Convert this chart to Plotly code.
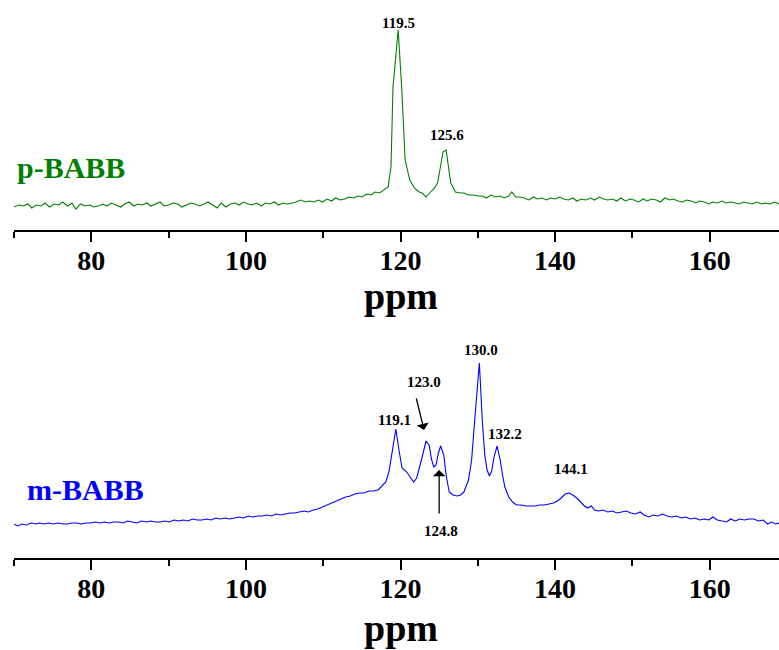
import plotly.graph_objects as go

# ---------------- data ----------------
# p-BABB spectrum: chemical shift (ppm) and intensity (a.u.)
p_ppm = [70.0, 70.6, 71.2, 71.8, 72.3, 72.9, 73.5, 74.0, 74.6, 75.2, 75.8, 76.3, 76.9, 77.5, 78.0,
         78.6, 79.2, 79.8, 80.3, 80.9, 81.5, 82.0, 82.6, 83.2, 83.8, 84.3, 84.9, 85.5, 86.0, 86.6,
         87.2, 87.7, 88.3, 88.9, 89.4, 90.0, 90.6, 91.2, 91.7, 92.3, 92.9, 93.4, 94.0, 94.6, 95.1,
         95.7, 96.3, 96.8, 97.4, 98.0, 98.6, 99.1, 99.7, 100.3, 100.8, 101.4, 102.0, 102.5, 103.1,
         103.7, 104.2, 104.8, 105.4, 106.0, 106.5, 107.1, 107.7, 108.2, 108.8, 109.4, 109.9, 110.5,
         111.1, 111.6, 112.2, 112.8, 113.3, 113.9, 114.5, 115.0, 115.6, 116.2, 116.7, 117.3, 117.9,
         118.4, 118.77, 119.03, 119.7, 120.15, 120.6, 121.2, 121.8, 122.4, 122.8, 123.3, 123.9,
         124.4, 124.8, 125.2, 125.5, 125.9, 126.2, 126.5, 127.1, 127.7, 128.2, 128.8, 129.4, 130.0,
         130.6, 131.1, 131.7, 132.3, 132.9, 133.4, 134.0, 134.4, 134.9, 135.5, 136.0, 136.6, 137.2,
         137.7, 138.3, 138.9, 139.4, 140.0, 140.6, 141.1, 141.7, 142.3, 142.8, 143.4, 144.0, 144.6,
         145.1, 145.7, 146.3, 146.8, 147.4, 148.0, 148.5, 149.1, 149.7, 150.2, 150.8, 151.4, 151.9,
         152.5, 153.1, 153.6, 154.2, 154.8, 155.3, 155.9, 156.5, 157.0, 157.6, 158.2, 158.7, 159.3,
         159.9, 160.4, 161.0, 161.6, 162.1, 162.7, 163.3, 163.8, 164.4, 165.0, 165.5, 166.1, 166.7,
         167.2, 167.8, 168.4, 169.0]
p_int = [0, 2, 1, 3, -1, 2, 1, 4, 0, 3, 2, 5, 1, 4, -2,
         3, 1, 2, 0, 1, 3, 1, 4, 2, 0, 3, 5, 1, 3, 2,
         4, 1, 3, 5, 1, 2, 4, 3, 0, 2, 4, 3, 1, 3, 5,
         2, -1, 4, 0, 3, 4, 2, 5, 3, 2, 4, 1, 4, 3,
         5, 2, 4, 3, 4, 5, 7, 5, 6, 5, 7, 5, 8,
         6, 9, 7, 8, 10, 9, 11, 10, 13, 12, 15, 14, 17,
         20, 40, 120, 177, 120, 47, 27, 19, 15, 14, 10, 15,
         19, 24, 40, 55, 57, 40, 24, 15, 14, 14, 12, 12, 11,
         11, 9, 12, 10, 11, 9, 11, 15, 10, 10, 9, 7, 10,
         8, 9, 7, 9, 8, 10, 8, 7, 9, 6, 8, 7, 9,
         7, 10, 8, 7, 8, 6, 9, 6, 8, 7, 5, 8, 6,
         8, 7, 5, 9, 7, 8, 6, 5, 7, 6, 4, 6, 5,
         3, 5, 4, 6, 4, 5, 4, 3, 5, 4, 3, 5, 3,
         4, 3, 5, 3]

# m-BABB spectrum
m_ppm = [70.0, 70.5, 71.0, 71.6, 72.2, 72.8, 73.3, 73.9, 74.5, 75.1, 75.7, 76.3, 76.9, 77.5, 78.1,
         78.7, 79.3, 79.9, 80.5, 81.1, 81.7, 82.3, 82.9, 83.5, 84.1, 84.7, 85.3, 85.9, 86.5, 87.1,
         87.7, 88.3, 88.9, 89.5, 90.1, 90.7, 91.3, 91.9, 92.5, 93.1, 93.7, 94.3, 94.9, 95.5, 96.1,
         96.7, 97.3, 97.9, 98.5, 99.1, 99.7, 100.3, 100.9, 101.5, 102.1, 102.7, 103.3, 103.9, 104.5,
         105.1, 105.7, 106.3, 106.9, 107.5, 108.1, 108.7, 109.3, 109.9, 110.5, 111.1, 111.7, 112.3,
         112.9, 113.5, 114.1, 114.7, 115.3, 115.9, 116.5, 117.1, 117.6, 118.1, 118.5, 118.9, 119.4,
         119.8, 120.2, 120.8, 121.3, 121.7, 122.1, 122.5, 122.8, 123.3, 123.7, 124.0, 124.3, 124.6,
         124.9, 125.2, 125.6, 125.9, 126.3, 126.8, 127.3, 127.8, 128.2, 128.8, 129.2, 129.6, 129.9,
         130.2, 130.6, 130.9, 131.2, 131.5, 131.8, 132.1, 132.5, 132.9, 133.2, 133.5, 134.0, 134.5,
         135.0, 135.6, 136.2, 136.8, 137.4, 138.0, 138.6, 139.2, 139.8, 140.3, 140.8, 141.3, 141.8,
         142.3, 142.8, 143.3, 143.8, 144.2, 144.7, 145.1, 145.6, 146.2, 146.8, 147.4, 148.0, 148.6,
         149.2, 149.8, 150.4, 151.0, 151.5, 152.1, 152.7, 153.3, 153.9, 154.5, 155.1, 155.7, 156.3,
         156.9, 157.5, 158.1, 158.7, 159.3, 159.9, 160.4, 161.0, 161.6, 162.2, 162.7, 163.3, 163.9,
         164.5, 165.1, 165.7, 166.3, 166.9, 167.5, 168.0, 168.5, 169.0]
m_int = [1, -1, 1, 0, 2, 1, 2, 1, 2, 1, 2, 1, 1, 2, 2,
         1, 2, 2, 3, 2, 3, 2, 3, 3, 2, 4, 3, 2, 4, 3,
         4, 3, 3, 4, 3, 5, 4, 5, 4, 6, 5, 5, 6, 5, 7,
         6, 7, 6, 7, 8, 7, 9, 8, 9, 9, 10, 9, 11, 10,
         11, 12, 12, 13, 14, 13, 15, 16, 18, 20, 22, 24, 26,
         28, 29, 31, 32, 32, 34, 34, 35, 39, 43, 53, 72, 96,
         75, 57, 53, 48, 43, 47, 58, 68, 84, 80, 66, 58, 60,
         72, 79, 70, 50, 33, 30, 29, 30, 33, 45, 65, 105, 132,
         162, 102, 70, 55, 49, 54, 68, 79, 65, 50, 38, 28, 23,
         20, 20, 19, 19, 19, 20, 20, 21, 22, 24, 27, 31, 32,
         30, 27, 23, 19, 17, 19, 15, 14, 15, 13, 14, 12, 13,
         14, 12, 11, 13, 10, 8, 10, 9, 11, 9, 8, 9, 7,
         8, 6, 7, 5, 6, 5, 8, 5, 4, 3, 6, 4, 6,
         5, 6, 6, 4, 5, 1, 3, 1, 2]

# peak labels
p_labels = ["119.5", "125.6"]
p_label_ppm = [119.75, 126.0]
p_label_int = [184, 72]

m_labels = ["119.1", "123.0", "130.0", "132.2", "144.1", "124.8"]
m_label_ppm = [119.2, 123.0, 130.4, 133.5, 142.0, 125.2]
m_label_int = [105, 143, 175, 91, 56, -6]

# arrows: (head ppm, head int, tail ppm, tail int)
m_arrows = [(123.05, 95, 122.0, 128), (125.0, 55, 125.0, 10)]

tick_vals = [80, 100, 120, 140, 160]
tick_text = ["80", "100", "120", "140", "160"]
minor_vals = [70, 90, 110, 130, 150]

GREEN = "rgb(0,128,0)"
BLUE = "rgb(0,0,255)"
SERIF = "Liberation Serif"

W, H = 779, 650
X0PX = 14  # left end of the axes in pixels
X_RANGE = [70, 70 + (W - X0PX) / 7.73]

fig = go.Figure()
fig.add_trace(go.Scatter(x=p_ppm, y=p_int, mode="lines", line=dict(color=GREEN, width=1.1),
                         xaxis="x", yaxis="y", showlegend=False, hoverinfo="skip"))
fig.add_trace(go.Scatter(x=m_ppm, y=m_int, mode="lines", line=dict(color=BLUE, width=1.1),
                         xaxis="x2", yaxis="y2", showlegend=False, hoverinfo="skip"))

def xaxis_cfg(anchor):
    return dict(
        domain=[X0PX / W, 1], range=X_RANGE, anchor=anchor,
        showline=True, linecolor="black", linewidth=2,
        ticks="outside", ticklen=10, tickwidth=2, tickcolor="black",
        tickvals=tick_vals, ticktext=tick_text, ticklabelstandoff=-6,
        tickfont=dict(family=SERIF, size=28, color="black", weight="bold"),
        minor=dict(tickvals=minor_vals, ticks="outside", ticklen=6,
                   tickwidth=2, tickcolor="black", showgrid=False),
        showgrid=False, zeroline=False, fixedrange=True,
    )

def yaxis_cfg(domain, rng, anchor):
    return dict(domain=domain, range=rng, anchor=anchor, visible=False, fixedrange=True)

fig.update_layout(
    width=W, height=H, margin=dict(l=0, r=0, t=0, b=0),
    paper_bgcolor="white", plot_bgcolor="white",
    xaxis=xaxis_cfg("y"),
    yaxis=yaxis_cfg([(H - 230) / H, 1.0], [-23, 207], "x"),
    xaxis2=xaxis_cfg("y2"),
    yaxis2=yaxis_cfg([(H - 558) / H, (H - 330) / H], [-33, 195], "x2"),
)

ann = []
# axis titles
for yp in [(H - 296) / H, (H - 628) / H]:
    ann.append(dict(text="<b>ppm</b>", xref="x", yref="paper", x=120, y=yp, showarrow=False,
                    xanchor="center", yanchor="middle",
                    font=dict(family=SERIF, size=38, color="black")))
# sample names
ann.append(dict(text="<b>p-BABB</b>", xref="paper", yref="paper", x=15 / W, y=(H - 167) / H,
                showarrow=False, xanchor="left", yanchor="middle",
                font=dict(family=SERIF, size=30, color=GREEN)))
ann.append(dict(text="<b>m-BABB</b>", xref="paper", yref="paper", x=25 / W, y=(H - 489) / H,
                showarrow=False, xanchor="left", yanchor="middle",
                font=dict(family=SERIF, size=30, color=BLUE)))
# peak labels
for t, xv, yv in zip(p_labels, p_label_ppm, p_label_int):
    ann.append(dict(text="<b>%s</b>" % t, xref="x", yref="y", x=xv, y=yv, showarrow=False,
                    xanchor="center", yanchor="middle",
                    font=dict(family=SERIF, size=15, color="black")))
for t, xv, yv in zip(m_labels, m_label_ppm, m_label_int):
    ann.append(dict(text="<b>%s</b>" % t, xref="x2", yref="y2", x=xv, y=yv, showarrow=False,
                    xanchor="center", yanchor="middle",
                    font=dict(family=SERIF, size=15, color="black")))
for hx, hy, tx, ty in m_arrows:
    ann.append(dict(text="", xref="x2", yref="y2", x=hx, y=hy, axref="x2", ayref="y2",
                    ax=tx, ay=ty, showarrow=True, arrowhead=1, arrowsize=1.6,
                    arrowwidth=1.3, arrowcolor="black", standoff=0, startstandoff=0))
fig.update_layout(annotations=ann)

fig.write_html("out.html")
